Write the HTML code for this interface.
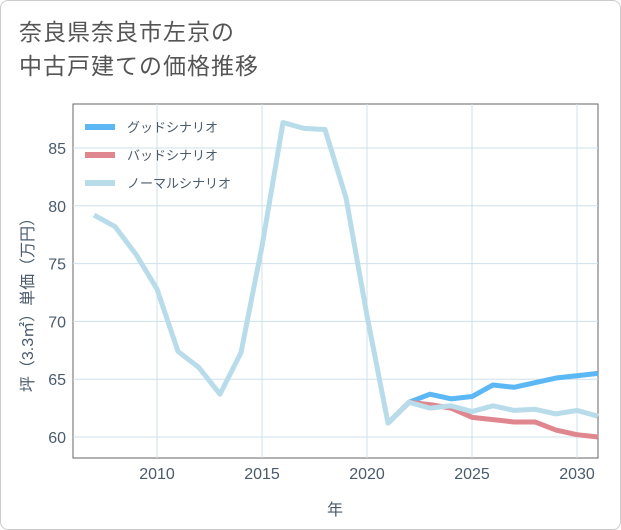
<!DOCTYPE html>
<html><head><meta charset="utf-8"><style>
body{margin:0;background:#fff;}
#wrap{position:relative;width:619px;height:528px;border:1px solid #ccc;border-radius:8px;background:#fff;font-family:"Liberation Sans","Noto Sans CJK JP",sans-serif;overflow:hidden}
#title{position:absolute;left:18px;top:14px;font-size:23px;line-height:34px;color:#555;letter-spacing:1px}
svg{position:absolute;left:0;top:0}
</style></head><body>
<div id="wrap">
<div id="title">奈良県奈良市左京の<br>中古戸建ての価格推移</div>
<svg id="chart" width="621" height="530"></svg>
</div>
<script>
const years=[2007,2008,2009,2010,2011,2012,2013,2014,2015,2016,2017,2018,2019,2020,2021,2022,2023,2024,2025,2026,2027,2028,2029,2030,2031];
const normalVals=[79.2,78.2,75.8,72.8,67.4,66,63.7,67.3,76.5,87.2,86.7,86.6,80.7,70.5,61.2,63,62.5,62.7,62.2,62.7,62.3,62.4,62,62.3,61.8];
const goodYears=[2021,2022,2023,2024,2025,2026,2027,2028,2029,2030,2031];
const goodVals=[61.2,63,63.7,63.3,63.5,64.5,64.3,64.7,65.1,65.3,65.5];
const badVals=[61.2,63,62.8,62.5,61.7,61.5,61.3,61.3,60.6,60.2,60.0];
const xTicks=[2010,2015,2020,2025,2030];
const yTicks=[60,65,70,75,80,85];
const legendLabels=["グッドシナリオ","バッドシナリオ","ノーマルシナリオ"];
const legendColors=["#5bb8f5","#e0868e","#b8dcea"];

const L=72,R=597,T=103,B=457;
const TXT='#4a5b6c';
const x=y=>156+(y-2010)*21;
const yS=v=>436-(v-60)*(289/25);
const svg=document.getElementById('chart');
const NS='http://www.w3.org/2000/svg';
function mk(t,a){const e=document.createElementNS(NS,t);for(const k in a)e.setAttribute(k,a[k]);svg.appendChild(e);return e;}
let r=mk('rect',{x:L,y:T,width:R-L,height:B-T,fill:'none',stroke:'#666','stroke-width':1});


xTicks.forEach(t=>{
 const g=mk('line',{x1:x(t),x2:x(t),y1:T,y2:B,stroke:'#cfe0ea'});
 
 
 const tx=mk('text',{x:x(t),y:478,'text-anchor':'middle','font-size':16,fill:TXT});
 tx.textContent=t;
 
 
});
yTicks.forEach(t=>{
 const g=mk('line',{x1:L,x2:R,y1:yS(t),y2:yS(t),stroke:'#cfe0ea'});
 
 
 const tx=mk('text',{x:65,y:yS(t)+6,'text-anchor':'end','font-size':16,fill:TXT});
 tx.textContent=t;
 
 
});
function line(xs,vs,c,name){
 const p=mk('polyline',{points:xs.map((yy,i)=>x(yy)+','+yS(vs[i])).join(' '),fill:'none',stroke:c,'stroke-width':5,'stroke-linejoin':'round'});
 
 
}
line(goodYears,goodVals,legendColors[0],'good-scenario-line');
line(goodYears,badVals,legendColors[1],'bad-scenario-line');
line(years,normalVals,legendColors[2],'normal-scenario-line');
legendLabels.forEach((lab,i)=>{
 const yy=126+i*28;
 const l=mk('line',{x1:84,x2:114,y1:yy,y2:yy,stroke:legendColors[i],'stroke-width':6});
 
 
 const t=mk('text',{x:126,y:yy+5,'font-size':13,fill:TXT});
 t.textContent=lab;
 
 
});
const xt=mk('text',{x:334,y:514,'text-anchor':'middle','font-size':16,fill:TXT});
xt.textContent='年';


const yt=mk('text',{x:0,y:0,'text-anchor':'middle','font-size':16,fill:TXT,transform:'translate(32,300) rotate(-90)'});
yt.textContent='坪（3.3㎡）単価（万円）';


</script>
</body></html>
